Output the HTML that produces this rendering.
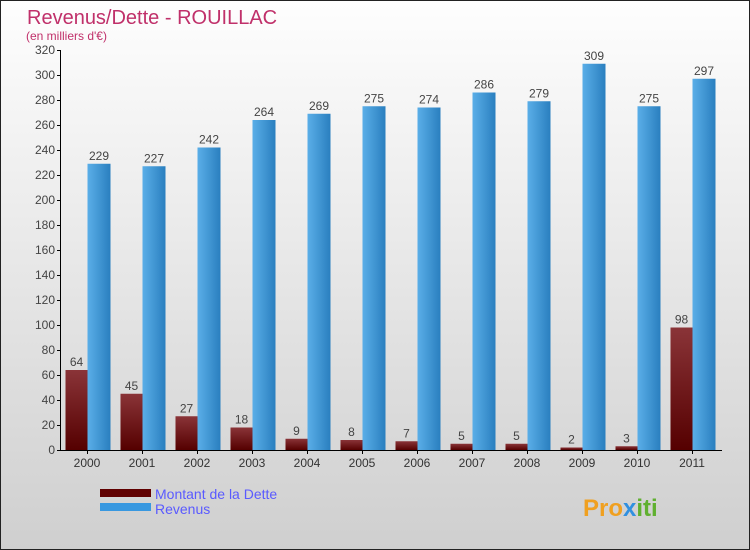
<!DOCTYPE html>
<html><head><meta charset="utf-8"><style>
body{margin:0}
#c{width:750px;height:550px;position:relative;overflow:hidden;font-family:"Liberation Sans",sans-serif}
</style></head><body>
<div id="c">
<svg width="750" height="550" xmlns="http://www.w3.org/2000/svg">
<defs>
<linearGradient id="bg" x1="0" y1="0" x2="0" y2="1"><stop offset="0" stop-color="#fefefe"/><stop offset="1" stop-color="#cfcfcf"/></linearGradient>
<linearGradient id="gd" x1="0" y1="0" x2="0" y2="1"><stop offset="0" stop-color="#8a3438"/><stop offset="1" stop-color="#550000"/></linearGradient>
<linearGradient id="gr" x1="0" y1="0" x2="1" y2="0"><stop offset="0" stop-color="#5aaee8"/><stop offset="1" stop-color="#2a7fbf"/></linearGradient>
</defs>
<rect x="0.5" y="0.5" width="749" height="549" fill="url(#bg)" stroke="#222"/>
<text x="27" y="24" font-size="20" fill="#c0306a">Revenus/Dette - ROUILLAC</text>
<text x="26" y="40" font-size="12" fill="#c0306a">(en milliers d'€)</text>
<g id="axes"></g>
<g id="bars"></g>
<rect x="100" y="489" width="51" height="8" fill="#600000"/>
<text x="155" y="499" font-size="14" fill="#5a5aff">Montant de la Dette</text>
<rect x="100" y="503" width="51" height="8" fill="#3898e0"/>
<text x="155" y="514" font-size="14" fill="#5a5aff">Revenus</text>
<text x="583" y="516" font-size="24" font-weight="bold" fill="#f0a020">Pro<tspan fill="#3090e0">x</tspan><tspan fill="#60b030">iti</tspan></text>
</svg>
</div>
<script>
const years=["2000","2001","2002","2003","2004","2005","2006","2007","2008","2009","2010","2011"];
const dette=[64,45,27,18,9,8,7,5,5,2,3,98];
const revenus=[229,227,242,264,269,275,274,286,279,309,275,297];
const yTicks=[0,20,40,60,80,100,120,140,160,180,200,220,240,260,280,300,320];
const NS="http://www.w3.org/2000/svg";
const x0=62,groupW=55,y0=450,yScale=400/320;
const y=v=>y0-v*yScale;
function mk(tag,attrs,parent){const e=document.createElementNS(NS,tag);for(const k in attrs)e.setAttribute(k,attrs[k]);parent.appendChild(e);return e;}
const ax=document.getElementById('axes'),bars=document.getElementById('bars');
let l=mk('line',{x1:60.5,y1:y(320),x2:60.5,y2:y0,stroke:'#000'},ax);


l=mk('line',{x1:60,y1:y0+0.5,x2:x0+groupW*12,y2:y0+0.5,stroke:'#000'},ax);


yTicks.forEach(t=>{
  mk('line',{x1:57,x2:61,y1:y(t)+0.5,y2:y(t)+0.5,stroke:'#000'},ax);
  const tx=mk('text',{x:55,y:y(t)+4,'font-size':12,'text-anchor':'end',fill:'#444'},ax);
  tx.textContent=t;
  
  
});
years.forEach((yr,i)=>{
  const gx=x0+groupW*i;
  mk('line',{x1:gx+25.5,x2:gx+25.5,y1:y0,y2:y0+4,stroke:'#000'},ax);
  const tx=mk('text',{x:gx+25,y:y0+17,'font-size':12,'text-anchor':'middle',fill:'#333'},ax);
  tx.textContent=yr;
  
  
  const d=mk('rect',{x:gx+3.5,y:y(dette[i]),width:22,height:dette[i]*yScale,fill:'url(#gd)'},bars);
  
  
  const r=mk('rect',{x:gx+25.5,y:y(revenus[i]),width:23,height:revenus[i]*yScale,fill:'url(#gr)'},bars);
  
  
  const dl=mk('text',{x:gx+14.5,y:y(dette[i])-4,'font-size':12,'text-anchor':'middle',fill:'#444'},bars);
  dl.textContent=dette[i];
  
  
  const rl=mk('text',{x:gx+37,y:y(revenus[i])-4,'font-size':12,'text-anchor':'middle',fill:'#444'},bars);
  rl.textContent=revenus[i];
  
  
});
</script>
</body></html>
